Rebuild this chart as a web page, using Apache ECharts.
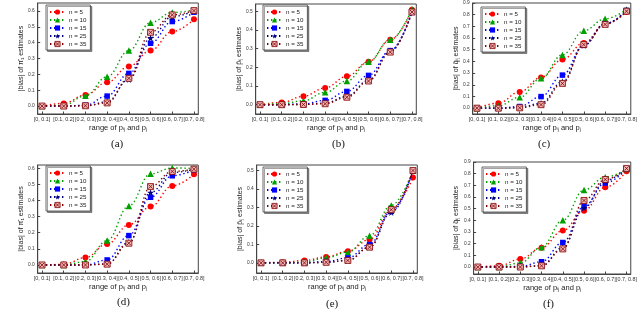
<!DOCTYPE html>
<html>
<head>
<meta charset="utf-8">
<script src="https://cdn.jsdelivr.net/npm/echarts@6/dist/echarts.min.js"></script>
<style>html,body{margin:0;padding:0;background:#fff}#c{width:640px;height:326px}</style>
</head>
<body>
<div id="c"></div>
<script>
const categories = ['[0, 0.1]','[0.1, 0.2]','[0.2, 0.3]','[0.3, 0.4]','[0.4, 0.5]','[0.5, 0.6]','[0.6, 0.7]','[0.7, 0.8]'];
const seriesNames = ['n = 5','n = 10','n = 15','n = 25','n = 35'];

// (a) |bias| of pi-bar_1
const panelA = [
  [0, 0.017, 0.070, 0.150, 0.250, 0.350, 0.470, 0.547],
  [0, 0.005, 0.065, 0.185, 0.350, 0.526, 0.590, 0.605],
  [0, 0.000, 0.005, 0.063, 0.206, 0.396, 0.533, 0.592],
  [0, 0.000, 0.002, 0.027, 0.168, 0.430, 0.564, 0.600],
  [0, 0.000, 0.002, 0.020, 0.175, 0.465, 0.575, 0.602]
];
// (b) |bias| of p-bar_ij
const panelB = [
  [0, 0.012, 0.045, 0.090, 0.152, 0.230, 0.348, 0.509],
  [0, 0.005, 0.021, 0.066, 0.127, 0.230, 0.348, 0.512],
  [0, 0.000, 0.004, 0.023, 0.071, 0.157, 0.290, 0.495],
  [0, 0.000, 0.001, 0.008, 0.045, 0.130, 0.286, 0.498],
  [0, 0.000, 0.001, 0.005, 0.040, 0.127, 0.282, 0.497]
];
// (c) |bias| of q-bar_ij
const panelC = [
  [0, 0.043, 0.139, 0.263, 0.416, 0.558, 0.722, 0.824],
  [0, 0.020, 0.093, 0.255, 0.456, 0.663, 0.765, 0.844],
  [0, 0.000, 0.014, 0.099, 0.283, 0.538, 0.722, 0.836],
  [0, 0.000, 0.005, 0.042, 0.227, 0.538, 0.722, 0.836],
  [0, 0.000, 0.003, 0.030, 0.212, 0.544, 0.717, 0.830]
];
// (d) |bias| of pi-hat_1
const panelD = [
  [0, 0.003, 0.046, 0.130, 0.248, 0.362, 0.490, 0.563],
  [0, 0.000, 0.021, 0.151, 0.366, 0.565, 0.602, 0.598],
  [0, 0.000, 0.000, 0.031, 0.182, 0.420, 0.553, 0.590],
  [0, 0.000, 0.000, 0.006, 0.141, 0.449, 0.573, 0.594],
  [0, 0.000, 0.000, 0.005, 0.135, 0.486, 0.580, 0.594]
];
// (e) |bias| of p-hat_ij
const panelE = [
  [0, 0.003, 0.013, 0.032, 0.063, 0.126, 0.293, 0.462],
  [0, 0.000, 0.005, 0.027, 0.058, 0.147, 0.311, 0.500],
  [0, 0.000, 0.000, 0.007, 0.027, 0.099, 0.279, 0.498],
  [0, 0.000, 0.000, 0.003, 0.013, 0.085, 0.273, 0.500],
  [0, 0.000, 0.000, 0.003, 0.013, 0.085, 0.288, 0.500]
];
// (f) |bias| of q-hat_ij
const panelF = [
  [0, 0.010, 0.068, 0.165, 0.312, 0.483, 0.683, 0.820],
  [0, 0.000, 0.035, 0.170, 0.400, 0.660, 0.770, 0.840],
  [0, 0.000, 0.005, 0.045, 0.210, 0.520, 0.720, 0.840],
  [0, 0.000, 0.000, 0.012, 0.165, 0.505, 0.740, 0.845],
  [0, 0.000, 0.000, 0.010, 0.155, 0.570, 0.750, 0.845]
];

const yTicksA = [0, 0.1, 0.2, 0.3, 0.4, 0.5, 0.6];
const yTicksB = [0, 0.1, 0.2, 0.3, 0.4, 0.5];
const yTicksC = [0, 0.1, 0.2, 0.3, 0.4, 0.5, 0.6, 0.7, 0.8, 0.9];
const yTicksD = [0, 0.1, 0.2, 0.3, 0.4, 0.5, 0.6];
const yTicksE = [0, 0.1, 0.2, 0.3, 0.4, 0.5];
const yTicksF = [0, 0.1, 0.2, 0.3, 0.4, 0.5, 0.6, 0.7, 0.8, 0.9];

const yNames = [
  '|bias| of \u03C0\u0304\u2081 estimates',
  '|bias| of p\u0304\u1D62\u2C7C estimates',
  '|bias| of q\u0304\u1D62\u2C7C estimates',
  '|bias| of \u03C0\u0302\u2081 estimates',
  '|bias| of p\u0302\u1D62\u2C7C estimates',
  '|bias| of q\u0302\u1D62\u2C7C estimates'
];
const xName = 'range of p\u1D62\u2C7C and p\u2C7C';
const captions = ['(a)','(b)','(c)','(d)','(e)','(f)'];

const panels = [panelA, panelB, panelC, panelD, panelE, panelF];
const yTicks = [yTicksA, yTicksB, yTicksC, yTicksD, yTicksE, yTicksF];
const yRanges = [[-0.05,0.65],[-0.05,0.54],[-0.05,0.9],[-0.05,0.62],[-0.055,0.53],[-0.06,0.9]];
const grids = [
  {left: 37.7, width: 160.6, top: 3, height: 111},
  {left: 255.7, width: 160.6, top: 4, height: 110},
  {left: 472.7, width: 160.6, top: 3, height: 111},
  {left: 37.7, width: 160.6, top: 165, height: 108},
  {left: 256.7, width: 160.6, top: 165, height: 108},
  {left: 473.6, width: 161.8, top: 162, height: 112}
];
const legendPos = [[46,5],[263,5],[481,7],[46,166],[263,167],[482,167]];
const captionPos = [[118,145],[339,145],[545,145],[124,303],[333,305],[550,305]];

const colors = ['#ff0000','#00a000','#0000ff','#000080','#800000'];
const starPath = 'path://M50,0L61,35L98,35L68,57L79,91L50,70L21,91L32,57L2,35L39,35Z';
const xboxPath = 'path://M0,0L10,0L10,10L0,10Z M1.5,1.5L8.5,8.5 M8.5,1.5L1.5,8.5';
const symbols = ['circle','triangle','rect',starPath,xboxPath];
const symbolSizes = [6,6.5,5.5,7,6];
const styles = colors.map((c, s) => s === 4 ? {color: '#f2b8b8', borderColor: '#800000', borderWidth: 0.8} : {color: c});

const FONT = 'Liberation Sans, Arial, sans-serif';
const option = {
  animation: false,
  backgroundColor: '#fff',
  grid: [], xAxis: [], yAxis: [], series: [], legend: [], title: []
};

panels.forEach((p, k) => {
  option.grid.push(Object.assign({show: true, borderColor: '#444', borderWidth: 1, backgroundColor: '#fff'}, grids[k]));
  option.xAxis.push({
    type: 'value', gridIndex: k, min: -0.2, max: 7.2,
    axisLine: {show: true, onZero: false, lineStyle: {color: '#444'}},
    axisTick: {show: true, inside: true, length: 2.5, customValues: categories.map((c,i)=>i), lineStyle: {color: '#444'}},
    axisLabel: {show: true, customValues: categories.map((c,i)=>i), formatter: v => categories[Math.round(v)], fontSize: 5.4, color: '#333', margin: 3, fontFamily: FONT},
    splitLine: {show: false},
    name: xName, nameLocation: 'middle', nameGap: 10, nameTextStyle: {fontSize: 7.5, color: '#222', fontFamily: FONT, verticalAlign: 'top'}
  });
  option.yAxis.push({
    type: 'value', gridIndex: k, min: yRanges[k][0], max: yRanges[k][1],
    axisLine: {show: true, onZero: false, lineStyle: {color: '#444'}},
    axisTick: {show: true, inside: true, length: 2.5, customValues: yTicks[k], lineStyle: {color: '#444'}},
    axisLabel: {show: true, customValues: yTicks[k], formatter: v => v.toFixed(1), fontSize: 4.8, color: '#333', margin: 3, fontFamily: FONT},
    splitLine: {show: false},
    name: yNames[k], nameLocation: 'middle', nameGap: 13, nameRotate: 90, nameTextStyle: {fontSize: 7, color: '#222', fontFamily: FONT}
  });
  p.forEach((vals, s) => {
    option.series.push({
      type: 'line', name: seriesNames[s], xAxisIndex: k, yAxisIndex: k,
      data: vals.map((v, i) => [i, v]),
      smooth: 0.4, smoothMonotone: 'x',
      symbol: symbols[s], symbolSize: symbolSizes[s],
      lineStyle: {color: colors[s], width: 1.4, type: [1.4, 2.6]},
      itemStyle: styles[s],
      z: 2 + s
    });
  });
  option.legend.push({
    data: seriesNames.map((n, s) => ({name: n, itemStyle: styles[s]})),
    left: legendPos[k][0], top: legendPos[k][1], orient: 'vertical',
    itemWidth: 15, itemHeight: 6.5, itemGap: 2, padding: [4, 4, 3, 3],
    backgroundColor: '#fff', borderColor: '#444', borderWidth: 0.8,
    shadowColor: 'rgba(0,0,0,0.45)', shadowOffsetX: 1.5, shadowOffsetY: 1.5, shadowBlur: 0,
    textStyle: {fontSize: 6.2, color: '#222', fontFamily: FONT, padding: [0,0,0,-1]},
    selectedMode: false
  });
  option.title.push({
    text: captions[k], left: captionPos[k][0] - 7, top: captionPos[k][1] - 6, padding: 0,
    textStyle: {fontSize: 11, fontWeight: 'normal', color: '#111', fontFamily: 'Liberation Serif, Times New Roman, serif'}
  });
});

const chart = echarts.init(document.getElementById('c'), null, {renderer: 'canvas'});
chart.setOption(option);
</script>
</body>
</html>
